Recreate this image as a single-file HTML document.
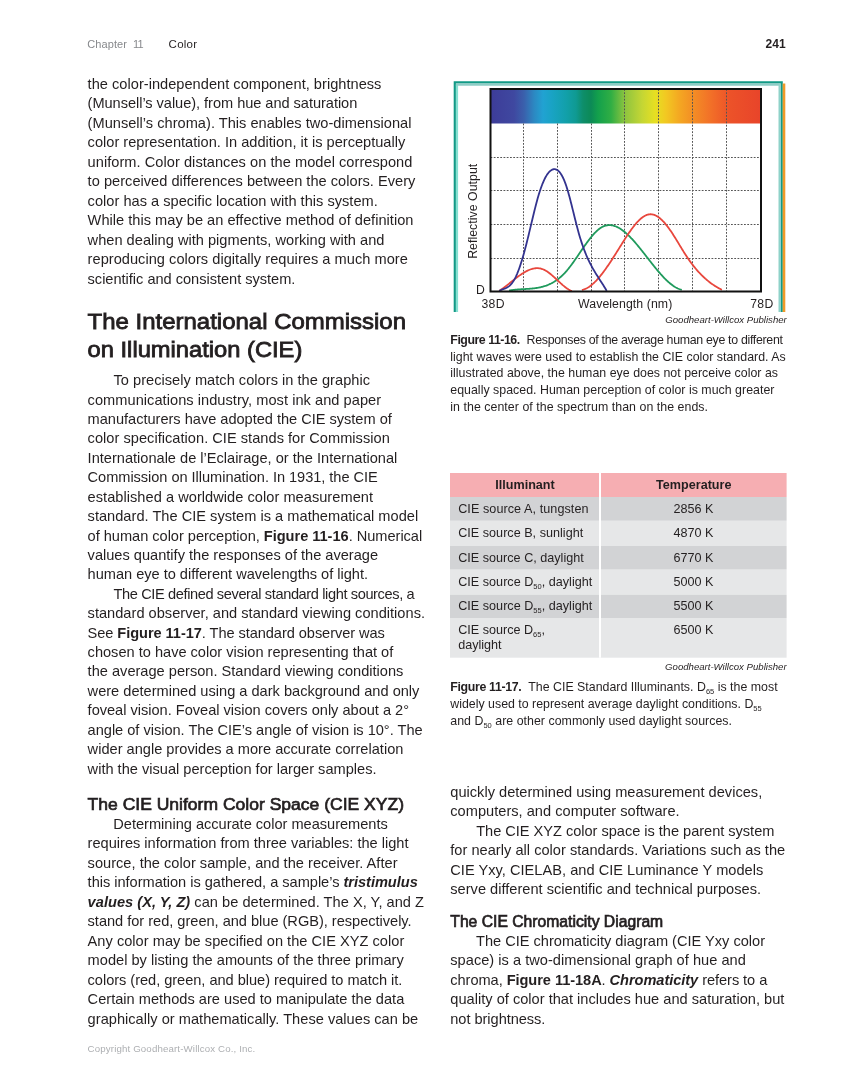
<!DOCTYPE html>
<html><head><meta charset="utf-8"><style>
html,body{margin:0;padding:0;background:#fff;}
svg{display:block;font-family:"Liberation Sans", sans-serif;will-change:transform;}
</style></head><body>
<svg width="849" height="1087" viewBox="0 0 849 1087" fill="#231f20">
<text x="87.3" y="47.8" font-size="11" fill="#87898c" textLength="39.60" lengthAdjust="spacing">Chapter</text>
<text x="133.0" y="47.8" font-size="11" fill="#87898c">1</text>
<text x="137.6" y="47.8" font-size="11" fill="#87898c">1</text>
<text x="168.6" y="47.8" font-size="11.5" textLength="28.40" lengthAdjust="spacing">Color</text>
<text x="785.6" y="47.8" font-size="12" font-weight="bold" text-anchor="end">241</text>
<text x="87.6" y="88.9" font-size="14.6" textLength="293.80" lengthAdjust="spacing">the color-independent component, brightness</text>
<text x="87.6" y="108.38" font-size="14.6" textLength="269.70" lengthAdjust="spacing">(Munsell’s value), from hue and saturation</text>
<text x="87.6" y="127.86" font-size="14.6" textLength="323.80" lengthAdjust="spacing">(Munsell’s chroma). This enables two-dimensional</text>
<text x="87.6" y="147.34" font-size="14.6" textLength="317.70" lengthAdjust="spacing">color representation. In addition, it is perceptually</text>
<text x="87.6" y="166.82" font-size="14.6" textLength="324.80" lengthAdjust="spacing">uniform. Color distances on the model correspond</text>
<text x="87.6" y="186.3" font-size="14.6" textLength="327.80" lengthAdjust="spacing">to perceived differences between the colors. Every</text>
<text x="87.6" y="205.78" font-size="14.6" textLength="290.20" lengthAdjust="spacing">color has a specific location with this system.</text>
<text x="87.6" y="225.26" font-size="14.6" textLength="325.80" lengthAdjust="spacing">While this may be an effective method of definition</text>
<text x="87.6" y="244.74" font-size="14.6" textLength="296.80" lengthAdjust="spacing">when dealing with pigments, working with and</text>
<text x="87.6" y="264.22" font-size="14.6" textLength="320.20" lengthAdjust="spacing">reproducing colors digitally requires a much more</text>
<text x="87.6" y="283.7" font-size="14.6" textLength="207.80" lengthAdjust="spacing">scientific and consistent system.</text>
<text x="87.6" y="329.0" font-size="22.7" textLength="318.40" stroke="#231f20" stroke-width="0.85" lengthAdjust="spacingAndGlyphs">The International Commission</text>
<text x="87.6" y="356.6" font-size="22.7" textLength="214.70" stroke="#231f20" stroke-width="0.85" lengthAdjust="spacingAndGlyphs">on Illumination (CIE)</text>
<text x="113.5" y="385.1" font-size="14.6" textLength="256.50" lengthAdjust="spacing">To precisely match colors in the graphic</text>
<text x="87.6" y="404.53" font-size="14.6" textLength="293.50" lengthAdjust="spacing">communications industry, most ink and paper</text>
<text x="87.6" y="423.95" font-size="14.6" textLength="304.20" lengthAdjust="spacing">manufacturers have adopted the CIE system of</text>
<text x="87.6" y="443.38" font-size="14.6" textLength="302.20" lengthAdjust="spacing">color specification. CIE stands for Commission</text>
<text x="87.6" y="462.8" font-size="14.6" textLength="309.70" lengthAdjust="spacing">Internationale de l’Eclairage, or the International</text>
<text x="87.6" y="482.23" font-size="14.6" textLength="290.10" lengthAdjust="spacing">Commission on Illumination. In 1931, the CIE</text>
<text x="87.6" y="501.65" font-size="14.6" textLength="285.40" lengthAdjust="spacing">established a worldwide color measurement</text>
<text x="87.6" y="521.08" font-size="14.6" textLength="330.60" lengthAdjust="spacing">standard. The CIE system is a mathematical model</text>
<text x="87.6" y="540.5" font-size="14.6" textLength="334.60" lengthAdjust="spacing">of human color perception, <tspan font-weight="bold">Figure 11-16</tspan>. Numerical</text>
<text x="87.6" y="559.93" font-size="14.6" textLength="290.50" lengthAdjust="spacing">values quantify the responses of the average</text>
<text x="87.6" y="579.35" font-size="14.6" textLength="280.40" lengthAdjust="spacing">human eye to different wavelengths of light.</text>
<text x="113.5" y="598.78" font-size="14.6" textLength="301.10" lengthAdjust="spacing">The CIE defined several standard light sources, a</text>
<text x="87.6" y="618.2" font-size="14.6" textLength="337.40" lengthAdjust="spacing">standard observer, and standard viewing conditions.</text>
<text x="87.6" y="637.63" font-size="14.6" textLength="297.30" lengthAdjust="spacing">See <tspan font-weight="bold">Figure 11-17</tspan>. The standard observer was</text>
<text x="87.6" y="657.05" font-size="14.6" textLength="305.70" lengthAdjust="spacing">chosen to have color vision representing that of</text>
<text x="87.6" y="676.48" font-size="14.6" textLength="315.80" lengthAdjust="spacing">the average person. Standard viewing conditions</text>
<text x="87.6" y="695.9" font-size="14.6" textLength="331.80" lengthAdjust="spacing">were determined using a dark background and only</text>
<text x="87.6" y="715.33" font-size="14.6" textLength="321.40" lengthAdjust="spacing">foveal vision. Foveal vision covers only about a 2°</text>
<text x="87.6" y="734.75" font-size="14.6" textLength="335.00" lengthAdjust="spacing">angle of vision. The CIE’s angle of vision is 10°. The</text>
<text x="87.6" y="754.18" font-size="14.6" textLength="315.80" lengthAdjust="spacing">wider angle provides a more accurate correlation</text>
<text x="87.6" y="773.6" font-size="14.6" textLength="288.90" lengthAdjust="spacing">with the visual perception for larger samples.</text>
<text x="87.6" y="809.5" font-size="17.3" textLength="316.40" stroke="#231f20" stroke-width="0.7" lengthAdjust="spacingAndGlyphs">The CIE Uniform Color Space (CIE XYZ)</text>
<text x="113.3" y="829.0" font-size="14.6" textLength="274.50" lengthAdjust="spacing">Determining accurate color measurements</text>
<text x="87.6" y="848.45" font-size="14.6" textLength="320.90" lengthAdjust="spacing">requires information from three variables: the light</text>
<text x="87.6" y="867.9" font-size="14.6" textLength="309.90" lengthAdjust="spacing">source, the color sample, and the receiver. After</text>
<text x="87.6" y="887.35" font-size="14.6" textLength="330.20" lengthAdjust="spacing">this information is gathered, a sample’s <tspan font-weight="bold" font-style="italic">tristimulus</tspan></text>
<text x="87.6" y="906.8" font-size="14.6" textLength="336.40" lengthAdjust="spacing"><tspan font-weight="bold" font-style="italic">values (X, Y, Z)</tspan> can be determined. The X, Y, and Z</text>
<text x="87.6" y="926.25" font-size="14.6" textLength="324.00" lengthAdjust="spacing">stand for red, green, and blue (RGB), respectively.</text>
<text x="87.6" y="945.7" font-size="14.6" textLength="316.70" lengthAdjust="spacing">Any color may be specified on the CIE XYZ color</text>
<text x="87.6" y="965.15" font-size="14.6" textLength="316.10" lengthAdjust="spacing">model by listing the amounts of the three primary</text>
<text x="87.6" y="984.6" font-size="14.6" textLength="314.70" lengthAdjust="spacing">colors (red, green, and blue) required to match it.</text>
<text x="87.6" y="1004.05" font-size="14.6" textLength="316.70" lengthAdjust="spacing">Certain methods are used to manipulate the data</text>
<text x="87.6" y="1023.5" font-size="14.6" textLength="330.60" lengthAdjust="spacing">graphically or mathematically. These values can be</text>
<text x="87.6" y="1052.2" font-size="9.7" fill="#adafb2" textLength="167.70" lengthAdjust="spacing">Copyright Goodheart-Willcox Co., Inc.</text>
<text x="450.3" y="797.0" font-size="14.6" textLength="311.90" lengthAdjust="spacing">quickly determined using measurement devices,</text>
<text x="450.3" y="816.45" font-size="14.6" textLength="229.30" lengthAdjust="spacing">computers, and computer software.</text>
<text x="476.2" y="835.9" font-size="14.6" textLength="298.20" lengthAdjust="spacing">The CIE XYZ color space is the parent system</text>
<text x="450.3" y="855.35" font-size="14.6" textLength="334.90" lengthAdjust="spacing">for nearly all color standards. Variations such as the</text>
<text x="450.3" y="874.8" font-size="14.6" textLength="313.00" lengthAdjust="spacing">CIE Yxy, CIELAB, and CIE Luminance Y models</text>
<text x="450.3" y="894.25" font-size="14.6" textLength="310.70" lengthAdjust="spacing">serve different scientific and technical purposes.</text>
<text x="450.3" y="926.8" font-size="16.1" textLength="212.90" stroke="#231f20" stroke-width="0.7" lengthAdjust="spacingAndGlyphs">The CIE Chromaticity Diagram</text>
<text x="476.0" y="945.5" font-size="14.6" textLength="289.00" lengthAdjust="spacing">The CIE chromaticity diagram (CIE Yxy color</text>
<text x="450.3" y="965.05" font-size="14.6" textLength="295.50" lengthAdjust="spacing">space) is a two-dimensional graph of hue and</text>
<text x="450.3" y="984.6" font-size="14.6" textLength="317.00" lengthAdjust="spacing">chroma, <tspan font-weight="bold">Figure 11-18A</tspan>. <tspan font-weight="bold" font-style="italic">Chromaticity</tspan> refers to a</text>
<text x="450.3" y="1004.15" font-size="14.6" textLength="334.10" lengthAdjust="spacing">quality of color that includes hue and saturation, but</text>
<text x="450.3" y="1023.7" font-size="14.6" textLength="95.10" lengthAdjust="spacing">not brightness.</text>
<text x="450.3" y="344.0" font-size="12.37" textLength="69.90" lengthAdjust="spacing"><tspan font-weight="bold">Figure 11-16.</tspan></text>
<text x="526.6" y="344.0" font-size="12.37" textLength="256.30" lengthAdjust="spacing">Responses of the average human eye to different</text>
<text x="450.3" y="360.72" font-size="12.37" textLength="335.40" lengthAdjust="spacing">light waves were used to establish the CIE color standard. As</text>
<text x="450.3" y="377.44" font-size="12.37" textLength="327.70" lengthAdjust="spacing">illustrated above, the human eye does not perceive color as</text>
<text x="450.3" y="394.16" font-size="12.37" textLength="324.10" lengthAdjust="spacing">equally spaced. Human perception of color is much greater</text>
<text x="450.3" y="410.88" font-size="12.37" textLength="257.70" lengthAdjust="spacing">in the center of the spectrum than on the ends.</text>
<text x="786.8" y="323.2" font-size="9.6" font-style="italic" text-anchor="end">Goodheart-Willcox Publisher</text>
<rect x="450.0" y="473.0" width="336.6" height="24.0" fill="#f6aeb2"/>
<rect x="450.0" y="497.0" width="336.6" height="23.799999999999955" fill="#d2d3d5"/>
<rect x="450.0" y="520.8" width="336.6" height="25.100000000000023" fill="#e6e7e8"/>
<rect x="450.0" y="545.9" width="336.6" height="23.800000000000068" fill="#d2d3d5"/>
<rect x="450.0" y="569.7" width="336.6" height="25.0" fill="#e6e7e8"/>
<rect x="450.0" y="594.7" width="336.6" height="23.299999999999955" fill="#d2d3d5"/>
<rect x="450.0" y="618.0" width="336.6" height="39.700000000000045" fill="#e6e7e8"/>
<rect x="599" y="473.0" width="2" height="184.70000000000005" fill="#ffffff"/>
<text x="525.0" y="489.0" font-size="12.6" font-weight="bold" text-anchor="middle">Illuminant</text>
<text x="693.8" y="489.0" font-size="12.6" font-weight="bold" text-anchor="middle">Temperature</text>
<text x="458.2" y="513.3" font-size="12.6" textLength="130.30" lengthAdjust="spacing">CIE source A, tungsten</text>
<text x="693.5" y="513.3" font-size="12.6" text-anchor="middle">2856 K</text>
<text x="458.2" y="537.3" font-size="12.6" textLength="125.00" lengthAdjust="spacing">CIE source B, sunlight</text>
<text x="693.5" y="537.3" font-size="12.6" text-anchor="middle">4870 K</text>
<text x="458.2" y="561.8" font-size="12.6" textLength="125.60" lengthAdjust="spacing">CIE source C, daylight</text>
<text x="693.5" y="561.8" font-size="12.6" text-anchor="middle">6770 K</text>
<text x="458.2" y="586.2" font-size="12.6" textLength="134.10" lengthAdjust="spacing">CIE source D<tspan font-size="7.5" dy="3">50</tspan><tspan dy="-3">, daylight</tspan></text>
<text x="693.5" y="586.2" font-size="12.6" text-anchor="middle">5000 K</text>
<text x="458.2" y="610.4" font-size="12.6" textLength="134.10" lengthAdjust="spacing">CIE source D<tspan font-size="7.5" dy="3">55</tspan><tspan dy="-3">, daylight</tspan></text>
<text x="693.5" y="610.4" font-size="12.6" text-anchor="middle">5500 K</text>
<text x="458.2" y="634.3" font-size="12.6">CIE source D<tspan font-size="7.5" dy="3">65</tspan><tspan dy="-3">,</tspan></text>
<text x="693.5" y="634.3" font-size="12.6" text-anchor="middle">6500 K</text>
<text x="458.2" y="649.2" font-size="12.6">daylight</text>
<text x="786.6" y="670.3" font-size="9.6" font-style="italic" text-anchor="end">Goodheart-Willcox Publisher</text>
<text x="450.3" y="691.0" font-size="12.37" textLength="71.40" lengthAdjust="spacing"><tspan font-weight="bold">Figure 11-17.</tspan></text>
<text x="528.2" y="691.0" font-size="12.37" textLength="249.40" lengthAdjust="spacing">The CIE Standard Illuminants. D<tspan font-size="7.5" dy="3">65</tspan><tspan dy="-3"> is the most</tspan></text>
<text x="450.3" y="707.7" font-size="12.37" textLength="311.40" lengthAdjust="spacing">widely used to represent average daylight conditions. D<tspan font-size="7.5" dy="3">55</tspan><tspan dy="-3"></tspan></text>
<text x="450.3" y="724.5" font-size="12.37" textLength="281.70" lengthAdjust="spacing">and D<tspan font-size="7.5" dy="3">50</tspan><tspan dy="-3"> are other commonly used daylight sources.</tspan></text>
<path d="M454.8 312 V82.3 H781.7 V312" fill="none" stroke="#129a86" stroke-width="2.2"/>
<path d="M457 312 V84.7" fill="none" stroke="#86e0d1" stroke-width="2.2"/>
<path d="M455.9 84.7 H780.7" fill="none" stroke="#8ecdc6" stroke-width="2.2"/>
<path d="M779.6 83.6 V312" fill="none" stroke="#8fd2c9" stroke-width="2.2"/>
<rect x="782.7" y="83.5" width="2.6" height="228.5" fill="#f09a28"/>
<defs><linearGradient id="spec" x1="0" x2="1" y1="0" y2="0"><stop offset="0" stop-color="#3d3c98"/><stop offset="0.08687615526802218" stop-color="#3f48a0"/><stop offset="0.12384473197781885" stop-color="#3a60ac"/><stop offset="0.16081330868761554" stop-color="#2c88c2"/><stop offset="0.19408502772643252" stop-color="#21a2d2"/><stop offset="0.22735674676524953" stop-color="#19a3c4"/><stop offset="0.27911275415896486" stop-color="#12a0aa"/><stop offset="0.31608133086876156" stop-color="#0f9a92"/><stop offset="0.3419593345656192" stop-color="#0e8e6a"/><stop offset="0.37153419593345655" stop-color="#0c8a56"/><stop offset="0.3974121996303142" stop-color="#13a04c"/><stop offset="0.4454713493530499" stop-color="#30ae44"/><stop offset="0.49722735674676527" stop-color="#8ec43f"/><stop offset="0.5600739371534196" stop-color="#c4d634"/><stop offset="0.6081330868761553" stop-color="#e6df22"/><stop offset="0.6487985212569316" stop-color="#f2c822"/><stop offset="0.7005545286506469" stop-color="#f4a622"/><stop offset="0.7523105360443623" stop-color="#f38c25"/><stop offset="0.8188539741219963" stop-color="#f26e28"/><stop offset="0.8853974121996303" stop-color="#ec5229"/><stop offset="1.0" stop-color="#e8442a"/></linearGradient></defs>
<rect x="490.5" y="89.0" width="270.5" height="34.5" fill="url(#spec)"/>
<line x1="523.5" y1="123.5" x2="523.5" y2="291.5" stroke="#555" stroke-width="1" stroke-dasharray="1.8 1.45"/>
<line x1="557.5" y1="123.5" x2="557.5" y2="291.5" stroke="#555" stroke-width="1" stroke-dasharray="1.8 1.45"/>
<line x1="591.5" y1="123.5" x2="591.5" y2="291.5" stroke="#555" stroke-width="1" stroke-dasharray="1.8 1.45"/>
<line x1="624.5" y1="89.0" x2="624.5" y2="291.5" stroke="#555" stroke-width="1" stroke-dasharray="1.8 1.45"/>
<line x1="658.5" y1="89.0" x2="658.5" y2="291.5" stroke="#555" stroke-width="1" stroke-dasharray="1.8 1.45"/>
<line x1="692.5" y1="89.0" x2="692.5" y2="291.5" stroke="#555" stroke-width="1" stroke-dasharray="1.8 1.45"/>
<line x1="726.5" y1="89.0" x2="726.5" y2="291.5" stroke="#555" stroke-width="1" stroke-dasharray="1.8 1.45"/>
<line x1="490.5" y1="157.5" x2="761.0" y2="157.5" stroke="#555" stroke-width="1" stroke-dasharray="1.8 1.45"/>
<line x1="490.5" y1="190.5" x2="761.0" y2="190.5" stroke="#555" stroke-width="1" stroke-dasharray="1.8 1.45"/>
<line x1="490.5" y1="224.5" x2="761.0" y2="224.5" stroke="#555" stroke-width="1" stroke-dasharray="1.8 1.45"/>
<line x1="490.5" y1="258.5" x2="761.0" y2="258.5" stroke="#555" stroke-width="1" stroke-dasharray="1.8 1.45"/>
<path d="M509.10 290.58 L509.76 290.46 L510.43 290.35 L511.09 290.24 L511.76 290.14 L512.42 290.05 L513.09 289.96 L513.75 289.88 L514.41 289.80 L515.08 289.73 L515.74 289.66 L516.41 289.60 L517.07 289.54 L517.74 289.49 L518.40 289.44 L519.06 289.39 L519.73 289.34 L520.39 289.30 L521.06 289.26 L521.72 289.22 L522.38 289.18 L523.05 289.14 L523.71 289.10 L524.38 289.07 L525.04 289.03 L525.71 288.99 L526.37 288.95 L527.03 288.91 L527.70 288.87 L528.36 288.82 L529.03 288.78 L529.69 288.73 L530.36 288.67 L531.02 288.62 L531.68 288.56 L532.35 288.49 L533.01 288.42 L533.68 288.35 L534.34 288.27 L535.00 288.19 L535.67 288.10 L536.33 288.00 L537.00 287.90 L537.66 287.79 L538.33 287.67 L538.99 287.54 L539.65 287.41 L540.32 287.27 L540.98 287.12 L541.65 286.96 L542.31 286.79 L542.98 286.61 L543.64 286.42 L544.30 286.22 L544.97 286.01 L545.63 285.78 L546.30 285.55 L546.96 285.30 L547.63 285.05 L548.29 284.77 L548.95 284.49 L549.62 284.19 L550.28 283.88 L550.95 283.56 L551.61 283.22 L552.27 282.86 L552.94 282.49 L553.60 282.10 L554.27 281.70 L554.93 281.28 L555.60 280.85 L556.26 280.40 L556.92 279.93 L557.59 279.44 L558.25 278.94 L558.92 278.42 L559.58 277.87 L560.25 277.31 L560.91 276.73 L561.57 276.13 L562.24 275.51 L562.90 274.87 L563.57 274.21 L564.23 273.53 L564.90 272.82 L565.56 272.09 L566.22 271.35 L566.89 270.58 L567.55 269.78 L568.22 268.97 L568.88 268.15 L569.54 267.30 L570.21 266.44 L570.87 265.56 L571.54 264.67 L572.20 263.76 L572.87 262.85 L573.53 261.92 L574.19 260.98 L574.86 260.04 L575.52 259.09 L576.19 258.13 L576.85 257.16 L577.52 256.19 L578.18 255.22 L578.84 254.24 L579.51 253.27 L580.17 252.29 L580.84 251.32 L581.50 250.34 L582.17 249.37 L582.83 248.41 L583.49 247.45 L584.16 246.49 L584.82 245.55 L585.49 244.61 L586.15 243.68 L586.82 242.76 L587.48 241.85 L588.14 240.96 L588.81 240.08 L589.47 239.21 L590.14 238.37 L590.80 237.53 L591.46 236.72 L592.13 235.92 L592.79 235.15 L593.46 234.40 L594.12 233.67 L594.79 232.96 L595.45 232.28 L596.11 231.62 L596.78 230.99 L597.44 230.39 L598.11 229.81 L598.77 229.27 L599.44 228.76 L600.10 228.28 L600.76 227.83 L601.43 227.41 L602.09 227.04 L602.76 226.69 L603.42 226.39 L604.09 226.11 L604.75 225.88 L605.41 225.67 L606.08 225.50 L606.74 225.36 L607.41 225.25 L608.07 225.18 L608.73 225.13 L609.40 225.12 L610.06 225.13 L610.73 225.18 L611.39 225.25 L612.06 225.35 L612.72 225.48 L613.38 225.64 L614.05 225.82 L614.71 226.03 L615.38 226.27 L616.04 226.53 L616.71 226.81 L617.37 227.12 L618.03 227.46 L618.70 227.81 L619.36 228.19 L620.03 228.59 L620.69 229.02 L621.36 229.46 L622.02 229.92 L622.68 230.41 L623.35 230.91 L624.01 231.43 L624.68 231.97 L625.34 232.53 L626.00 233.11 L626.67 233.70 L627.33 234.31 L628.00 234.93 L628.66 235.57 L629.33 236.23 L629.99 236.90 L630.65 237.58 L631.32 238.28 L631.98 238.98 L632.65 239.71 L633.31 240.44 L633.98 241.18 L634.64 241.93 L635.30 242.70 L635.97 243.47 L636.63 244.25 L637.30 245.04 L637.96 245.84 L638.62 246.65 L639.29 247.46 L639.95 248.28 L640.62 249.11 L641.28 249.94 L641.95 250.77 L642.61 251.61 L643.27 252.45 L643.94 253.30 L644.60 254.15 L645.27 255.00 L645.93 255.85 L646.60 256.71 L647.26 257.56 L647.92 258.42 L648.59 259.27 L649.25 260.12 L649.92 260.97 L650.58 261.82 L651.25 262.67 L651.91 263.52 L652.57 264.36 L653.24 265.19 L653.90 266.02 L654.57 266.85 L655.23 267.67 L655.89 268.49 L656.56 269.29 L657.22 270.09 L657.89 270.89 L658.55 271.67 L659.22 272.45 L659.88 273.21 L660.54 273.97 L661.21 274.72 L661.87 275.45 L662.54 276.18 L663.20 276.89 L663.87 277.59 L664.53 278.27 L665.19 278.95 L665.86 279.60 L666.52 280.25 L667.19 280.88 L667.85 281.49 L668.52 282.09 L669.18 282.67 L669.84 283.23 L670.51 283.78 L671.17 284.30 L671.84 284.81 L672.50 285.30 L673.16 285.77 L673.83 286.22 L674.49 286.65 L675.16 287.06 L675.82 287.44 L676.49 287.80 L677.15 288.14 L677.81 288.46 L678.48 288.75 L679.14 289.02 L679.81 289.26 L680.47 289.48 L681.14 289.67 L681.80 289.83" fill="none" stroke="#1f9a5c" stroke-width="1.8" stroke-linejoin="round"/>
<path d="M499.20 290.92 L499.86 290.49 L500.52 290.04 L501.19 289.59 L501.85 289.13 L502.51 288.66 L503.17 288.18 L503.83 287.69 L504.49 287.19 L505.16 286.69 L505.82 286.18 L506.48 285.67 L507.14 285.15 L507.80 284.63 L508.47 284.11 L509.13 283.58 L509.79 283.05 L510.45 282.52 L511.11 282.00 L511.77 281.47 L512.44 280.94 L513.10 280.41 L513.76 279.89 L514.42 279.36 L515.08 278.85 L515.75 278.33 L516.41 277.82 L517.07 277.32 L517.73 276.83 L518.39 276.34 L519.05 275.85 L519.72 275.38 L520.38 274.91 L521.04 274.46 L521.70 274.02 L522.36 273.58 L523.03 273.16 L523.69 272.75 L524.35 272.35 L525.01 271.97 L525.67 271.60 L526.33 271.25 L527.00 270.91 L527.66 270.59 L528.32 270.28 L528.98 270.00 L529.64 269.73 L530.31 269.48 L530.97 269.25 L531.63 269.04 L532.29 268.85 L532.95 268.69 L533.61 268.54 L534.28 268.42 L534.94 268.32 L535.60 268.25 L536.26 268.20 L536.92 268.18 L537.59 268.19 L538.25 268.22 L538.91 268.28 L539.57 268.37 L540.23 268.48 L540.89 268.63 L541.56 268.81 L542.22 269.02 L542.88 269.26 L543.54 269.53 L544.20 269.84 L544.87 270.17 L545.53 270.53 L546.19 270.92 L546.85 271.34 L547.51 271.78 L548.17 272.24 L548.84 272.73 L549.50 273.23 L550.16 273.75 L550.82 274.29 L551.48 274.84 L552.15 275.41 L552.81 275.99 L553.47 276.58 L554.13 277.18 L554.79 277.78 L555.45 278.39 L556.12 279.01 L556.78 279.63 L557.44 280.25 L558.10 280.86 L558.76 281.48 L559.43 282.10 L560.09 282.71 L560.75 283.31 L561.41 283.91 L562.07 284.49 L562.73 285.07 L563.40 285.63 L564.06 286.18 L564.72 286.71 L565.38 287.23 L566.04 287.73 L566.71 288.21 L567.37 288.67 L568.03 289.10 L568.69 289.51 L569.35 289.90 L570.01 290.25 L570.68 290.58 L571.34 290.88 L572.00 291.00" fill="none" stroke="#e8473d" stroke-width="1.8" stroke-linejoin="round"/>
<path d="M581.90 289.92 L582.56 289.78 L583.23 289.61 L583.89 289.41 L584.55 289.18 L585.22 288.92 L585.88 288.62 L586.54 288.30 L587.21 287.95 L587.87 287.57 L588.54 287.16 L589.20 286.73 L589.86 286.27 L590.53 285.78 L591.19 285.27 L591.85 284.73 L592.52 284.17 L593.18 283.59 L593.84 282.98 L594.51 282.35 L595.17 281.70 L595.83 281.02 L596.50 280.33 L597.16 279.61 L597.82 278.88 L598.49 278.13 L599.15 277.36 L599.81 276.57 L600.48 275.76 L601.14 274.93 L601.81 274.09 L602.47 273.24 L603.13 272.37 L603.80 271.48 L604.46 270.58 L605.12 269.67 L605.79 268.74 L606.45 267.80 L607.11 266.85 L607.78 265.89 L608.44 264.92 L609.10 263.94 L609.77 262.94 L610.43 261.94 L611.09 260.94 L611.76 259.92 L612.42 258.89 L613.08 257.86 L613.75 256.83 L614.41 255.79 L615.08 254.74 L615.74 253.69 L616.40 252.63 L617.07 251.57 L617.73 250.51 L618.39 249.45 L619.06 248.38 L619.72 247.32 L620.38 246.25 L621.05 245.19 L621.71 244.13 L622.37 243.06 L623.04 242.01 L623.70 240.96 L624.36 239.91 L625.03 238.87 L625.69 237.84 L626.35 236.82 L627.02 235.80 L627.68 234.80 L628.35 233.81 L629.01 232.83 L629.67 231.87 L630.34 230.92 L631.00 229.99 L631.66 229.07 L632.33 228.17 L632.99 227.29 L633.65 226.43 L634.32 225.59 L634.98 224.77 L635.64 223.98 L636.31 223.20 L636.97 222.46 L637.63 221.74 L638.30 221.04 L638.96 220.37 L639.63 219.74 L640.29 219.13 L640.95 218.55 L641.62 218.00 L642.28 217.49 L642.94 217.01 L643.61 216.57 L644.27 216.16 L644.93 215.78 L645.60 215.45 L646.26 215.15 L646.92 214.89 L647.59 214.68 L648.25 214.50 L648.91 214.37 L649.58 214.28 L650.24 214.24 L650.90 214.24 L651.57 214.29 L652.23 214.38 L652.90 214.51 L653.56 214.68 L654.22 214.90 L654.89 215.15 L655.55 215.45 L656.21 215.78 L656.88 216.15 L657.54 216.56 L658.20 217.00 L658.87 217.48 L659.53 217.99 L660.19 218.54 L660.86 219.11 L661.52 219.72 L662.18 220.36 L662.85 221.03 L663.51 221.73 L664.17 222.46 L664.84 223.22 L665.50 224.00 L666.17 224.81 L666.83 225.64 L667.49 226.50 L668.16 227.38 L668.82 228.28 L669.48 229.20 L670.15 230.15 L670.81 231.11 L671.47 232.09 L672.14 233.09 L672.80 234.11 L673.46 235.14 L674.13 236.19 L674.79 237.24 L675.45 238.31 L676.12 239.39 L676.78 240.47 L677.45 241.56 L678.11 242.65 L678.77 243.75 L679.44 244.85 L680.10 245.94 L680.76 247.04 L681.43 248.13 L682.09 249.22 L682.75 250.30 L683.42 251.37 L684.08 252.43 L684.74 253.49 L685.41 254.53 L686.07 255.55 L686.73 256.56 L687.40 257.56 L688.06 258.53 L688.72 259.49 L689.39 260.44 L690.05 261.37 L690.72 262.28 L691.38 263.18 L692.04 264.06 L692.71 264.92 L693.37 265.77 L694.03 266.61 L694.70 267.43 L695.36 268.23 L696.02 269.02 L696.69 269.80 L697.35 270.56 L698.01 271.30 L698.68 272.04 L699.34 272.75 L700.00 273.46 L700.67 274.15 L701.33 274.82 L701.99 275.49 L702.66 276.14 L703.32 276.77 L703.99 277.40 L704.65 278.01 L705.31 278.61 L705.98 279.19 L706.64 279.76 L707.30 280.32 L707.97 280.87 L708.63 281.41 L709.29 281.93 L709.96 282.44 L710.62 282.95 L711.28 283.44 L711.95 283.91 L712.61 284.38 L713.27 284.84 L713.94 285.28 L714.60 285.71 L715.26 286.14 L715.93 286.55 L716.59 286.95 L717.26 287.35 L717.92 287.73 L718.58 288.10 L719.25 288.47 L719.91 288.82 L720.57 289.16 L721.24 289.50 L721.90 289.82" fill="none" stroke="#e8473d" stroke-width="1.8" stroke-linejoin="round"/>
<path d="M499.20 290.84 L499.86 290.52 L500.53 290.23 L501.19 289.96 L501.85 289.71 L502.52 289.46 L503.18 289.22 L503.85 288.97 L504.51 288.71 L505.17 288.44 L505.84 288.14 L506.50 287.81 L507.16 287.45 L507.83 287.05 L508.49 286.60 L509.15 286.10 L509.82 285.54 L510.48 284.91 L511.14 284.20 L511.81 283.42 L512.47 282.56 L513.14 281.60 L513.80 280.54 L514.46 279.39 L515.13 278.14 L515.79 276.79 L516.45 275.35 L517.12 273.82 L517.78 272.20 L518.44 270.49 L519.11 268.70 L519.77 266.83 L520.43 264.87 L521.10 262.84 L521.76 260.73 L522.43 258.54 L523.09 256.28 L523.75 253.96 L524.42 251.56 L525.08 249.10 L525.74 246.57 L526.41 243.98 L527.07 241.33 L527.73 238.64 L528.40 235.92 L529.06 233.16 L529.72 230.38 L530.39 227.59 L531.05 224.80 L531.72 222.00 L532.38 219.22 L533.04 216.46 L533.71 213.72 L534.37 211.03 L535.03 208.37 L535.70 205.77 L536.36 203.23 L537.02 200.75 L537.69 198.36 L538.35 196.05 L539.01 193.83 L539.68 191.71 L540.34 189.69 L541.01 187.76 L541.67 185.94 L542.33 184.21 L543.00 182.58 L543.66 181.05 L544.32 179.61 L544.99 178.27 L545.65 177.02 L546.31 175.87 L546.98 174.81 L547.64 173.84 L548.30 172.97 L548.97 172.19 L549.63 171.50 L550.30 170.90 L550.96 170.39 L551.62 169.97 L552.29 169.64 L552.95 169.40 L553.61 169.24 L554.28 169.18 L554.94 169.21 L555.60 169.33 L556.27 169.55 L556.93 169.87 L557.60 170.29 L558.26 170.81 L558.92 171.43 L559.59 172.17 L560.25 173.01 L560.91 173.96 L561.58 175.02 L562.24 176.20 L562.90 177.50 L563.57 178.92 L564.23 180.45 L564.89 182.11 L565.56 183.90 L566.22 185.81 L566.89 187.85 L567.55 190.01 L568.21 192.27 L568.88 194.63 L569.54 197.07 L570.20 199.58 L570.87 202.15 L571.53 204.77 L572.19 207.43 L572.86 210.11 L573.52 212.80 L574.18 215.49 L574.85 218.18 L575.51 220.84 L576.18 223.47 L576.84 226.05 L577.50 228.58 L578.17 231.04 L578.83 233.42 L579.49 235.71 L580.16 237.93 L580.82 240.07 L581.48 242.14 L582.15 244.13 L582.81 246.06 L583.47 247.91 L584.14 249.71 L584.80 251.44 L585.47 253.11 L586.13 254.73 L586.79 256.29 L587.46 257.80 L588.12 259.27 L588.78 260.68 L589.45 262.05 L590.11 263.39 L590.77 264.68 L591.44 265.94 L592.10 267.16 L592.76 268.35 L593.43 269.52 L594.09 270.66 L594.76 271.77 L595.42 272.87 L596.08 273.94 L596.75 275.01 L597.41 276.05 L598.07 277.09 L598.74 278.12 L599.40 279.15 L600.06 280.17 L600.73 281.20 L601.39 282.22 L602.05 283.25 L602.72 284.29 L603.38 285.34 L604.05 286.41 L604.71 287.48 L605.37 288.58 L606.04 289.70 L606.70 290.83" fill="none" stroke="#33338f" stroke-width="1.8" stroke-linejoin="round"/>
<path d="M490.5 89.0 H761.0 V291.5 H490.5 Z" fill="none" stroke="#111" stroke-width="2"/>
<text x="476.0" y="293.5" font-size="12.2">D</text>
<text x="481.5" y="307.7" font-size="12.2" textLength="23.00" lengthAdjust="spacing">38D</text>
<text x="578.0" y="307.7" font-size="12.3" textLength="94.30" lengthAdjust="spacing">Wavelength (nm)</text>
<text x="750.3" y="307.7" font-size="12.2" textLength="22.90" lengthAdjust="spacing">78D</text>
<text x="0" y="0" font-size="12.3" textLength="95" lengthAdjust="spacing" transform="translate(477.2 258.8) rotate(-90)">Reflective Output</text>
</svg></body></html>
